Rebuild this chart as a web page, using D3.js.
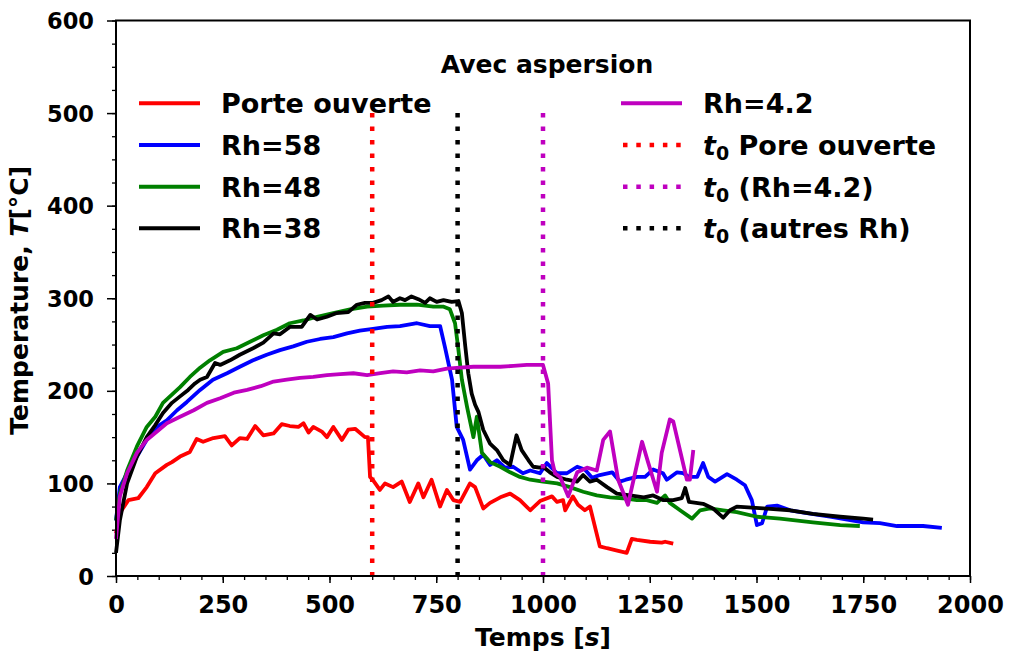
<!DOCTYPE html>
<html lang="en">
<head>
<meta charset="UTF-8">
<title>Avec aspersion</title>
<style>
  body { margin: 0; background: #fff; }
  svg { display: block; font-family: 'DejaVu Sans', sans-serif; font-weight: bold; }
</style>
</head>
<body>
<svg width="1009" height="663"></svg>
<script src="https://d3js.org/d3.v7.min.js"></script>
<script>
// [time s, temperature °C]
const porteOuverte = [[0,46],[9,68],[29,82],[52,84],[72,96],[92,111],[119,120],[131,123],[150,129],[173,134],[189,148],[204,145],[228,149],[255,151],[271,141],[290,149],[307,148],[326,162],[345,152],[369,154],[388,164],[407,162],[427,161],[439,165],[451,155],[462,161],[482,156],[494,150],[509,161],[529,147],[544,158],[560,159],[583,150],[590,150],[595,107],[601,104],[618,93],[630,100],[649,96],[669,102],[688,80],[708,100],[720,85],[739,104],[759,75],[775,93],[790,82],[806,80],[829,100],[841,96],[860,73],[876,79],[900,85],[923,89],[946,82],[970,71],[993,81],[1021,86],[1033,80],[1047,82],[1052,71],[1070,86],[1082,77],[1098,71],[1110,75],[1133,32],[1150,30],[1169,28],[1196,25],[1208,40],[1220,39],[1251,37],[1278,36],[1286,37],[1305,35]];

const rh58 = [[0,60],[9,96],[26,111],[49,129],[72,147],[96,161],[119,168],[143,179],[166,188],[197,201],[227,212],[260,219],[290,226],[321,233],[353,239],[384,244],[415,248],[447,253],[478,256],[509,258],[541,262],[571,265],[602,267],[635,269],[665,270],[705,273],[735,270],[759,270],[770,248],[787,212],[798,161],[813,147],[829,115],[845,125],[860,131],[876,120],[892,125],[911,117],[930,118],[953,111],[970,114],[993,111],[1009,122],[1033,111],[1056,111],[1080,118],[1098,115],[1115,106],[1133,109],[1162,112],[1180,102],[1194,104],[1220,107],[1239,107],[1258,115],[1281,111],[1290,104],[1314,112],[1328,111],[1342,107],[1361,107],[1375,122],[1387,107],[1403,102],[1431,110],[1454,104],[1473,98],[1489,82],[1501,55],[1513,57],[1525,75],[1548,76],[1579,71],[1618,68],[1672,64],[1750,58],[1789,57],[1829,54],[1890,54],[1934,52]];

const rh48 = [[0,60],[9,89],[26,114],[49,140],[72,161],[92,172],[110,187],[131,196],[150,204],[173,215],[197,225],[220,233],[251,242],[283,246],[314,253],[345,260],[377,266],[407,273],[439,276],[471,280],[509,284],[548,288],[588,291],[626,292],[665,293],[705,293],[743,291],[766,291],[782,288],[794,273],[801,248],[810,212],[822,183],[837,150],[845,172],[857,133],[876,123],[900,118],[923,112],[946,107],[970,104],[1000,102],[1033,100],[1063,96],[1094,91],[1126,87],[1157,85],[1187,84],[1220,82],[1243,82],[1267,79],[1286,87],[1297,79],[1321,71],[1349,62],[1368,71],[1391,73],[1422,71],[1454,69],[1501,64],[1555,62],[1632,58],[1696,55],[1742,54]];

const rh38 = [[0,25],[9,60],[26,100],[49,129],[72,150],[92,163],[110,176],[131,187],[150,194],[169,201],[185,208],[197,212],[213,215],[232,230],[244,228],[267,233],[290,239],[321,246],[345,252],[369,262],[384,261],[407,269],[435,269],[455,282],[471,277],[494,280],[517,284],[544,285],[564,293],[583,295],[602,295],[622,298],[638,302],[649,296],[665,300],[677,298],[692,302],[708,299],[724,295],[735,300],[751,296],[767,298],[786,296],[802,297],[810,284],[818,248],[825,219],[833,197],[841,185],[849,177],[860,158],[876,143],[892,136],[907,125],[923,120],[938,152],[950,136],[966,125],[977,118],[993,117],[1000,118],[1016,112],[1033,107],[1056,104],[1080,102],[1094,109],[1110,102],[1126,104],[1150,96],[1173,89],[1204,87],[1236,85],[1258,87],[1281,82],[1305,82],[1325,84],[1333,95],[1342,80],[1375,78],[1398,73],[1422,63],[1438,71],[1454,75],[1516,73],[1579,71],[1632,67],[1696,64],[1750,62],[1773,61]];

const rh42 = [[0,40],[9,86],[26,111],[49,133],[72,147],[96,156],[119,165],[150,172],[182,179],[213,187],[244,192],[276,198],[307,201],[339,205],[369,210],[400,212],[431,214],[462,215],[494,217],[525,218],[556,219],[588,217],[619,219],[649,221],[681,220],[712,222],[743,221],[775,224],[806,225],[837,226],[868,226],[900,226],[931,227],[962,228],[993,228],[1000,228],[1012,208],[1021,125],[1028,111],[1040,107],[1059,86],[1080,112],[1103,117],[1126,114],[1141,147],[1157,156],[1176,104],[1199,77],[1232,145],[1246,123],[1267,91],[1278,133],[1297,169],[1305,167],[1337,104],[1344,104],[1352,136]];

const seriesNames = ["Porte ouverte", "Rh=58", "Rh=48", "Rh=38", "Rh=4.2"];
const seriesData = [porteOuverte, rh58, rh48, rh38, rh42];
const seriesColors = ["#ff0000", "#0000ff", "#008000", "#000000", "#bf00bf"];

const t0Times = [600, 800, 1000];
const t0Colors = ["#ff0000", "#000000", "#bf00bf"];
const t0Top = 500;

const xTicks = [0, 250, 500, 750, 1000, 1250, 1500, 1750, 2000];
const yTicks = [0, 100, 200, 300, 400, 500, 600];

const svg = d3.select("svg");
const x = d3.scaleLinear().domain([0, 2000]).range([116, 970]);
const y = d3.scaleLinear().domain([0, 600]).range([576, 20.5]);

// minor ticks
svg.append("g")
  .attr("transform", `translate(0,${y(0)})`)
  .call(d3.axisBottom(x).tickValues(d3.range(0, 2001, 50)).tickSize(4).tickFormat(""))
  .call(g => g.select(".domain").remove())
  .call(g => g.selectAll("line").attr("stroke-width", 1.3));
svg.append("g")
  .attr("transform", `translate(${x(0)},0)`)
  .call(d3.axisLeft(y).tickValues(d3.range(0, 601, 25)).tickSize(4).tickFormat(""))
  .call(g => g.select(".domain").remove())
  .call(g => g.selectAll("line").attr("stroke-width", 1.3));

// major ticks
svg.append("g")
  .attr("transform", `translate(0,${y(0)})`)
  .call(d3.axisBottom(x).tickValues(xTicks).tickSize(7).tickFormat(d3.format("d")))
  .call(g => g.select(".domain").remove())
  .call(g => g.selectAll("line").attr("stroke-width", 1.5))
  .call(g => g.selectAll("text").attr("font-size", 24).attr("font-family", "DejaVu Sans").attr("font-weight", "bold").attr("fill", "#000").attr("dy", 0).attr("y", 37));
svg.append("g")
  .attr("transform", `translate(${x(0)},0)`)
  .call(d3.axisLeft(y).tickValues(yTicks).tickSize(9).tickFormat(d3.format("d")))
  .call(g => g.select(".domain").remove())
  .call(g => g.selectAll("line").attr("stroke-width", 1.5))
  .call(g => g.selectAll("text").attr("font-size", 22.5).attr("font-family", "DejaVu Sans").attr("font-weight", "bold").attr("fill", "#000").attr("dy", 0).attr("x", -22).attr("y", 8));

const line = d3.line().x(d => x(d[0])).y(d => y(d[1]));

const plot = svg.append("g");
plot.selectAll("path.series")
  .data(seriesData)
  .join("path")
  .attr("class", "series")
  .attr("d", line)
  .attr("fill", "none")
  .attr("stroke", (d, i) => seriesColors[i])
  .attr("stroke-width", 3.8)
  .attr("stroke-linejoin", "round");

plot.selectAll("line.t0")
  .data(t0Times)
  .join("line")
  .attr("class", "t0")
  .attr("x1", d => x(d)).attr("x2", d => x(d))
  .attr("y1", y(t0Top)).attr("y2", y(0))
  .attr("stroke", (d, i) => t0Colors[i])
  .attr("stroke-width", 4.5)
  .attr("stroke-dasharray", "4.5,9");

// frame
svg.append("rect")
  .attr("x", x(0)).attr("y", y(600))
  .attr("width", x(2000) - x(0)).attr("height", y(0) - y(600))
  .attr("fill", "none").attr("stroke", "#000").attr("stroke-width", 2);

// axis labels
const ylab = svg.append("text")
  .attr("transform", `translate(28,${(y(0) + y(600)) / 2 + 2}) rotate(-90)`)
  .attr("text-anchor", "middle").attr("font-size", 25);
ylab.append("tspan").text("Temperature, ");
ylab.append("tspan").attr("font-style", "italic").text("T");
ylab.append("tspan").text("[°C]");

const xlab = svg.append("text")
  .attr("x", (x(0) + x(2000)) / 2).attr("y", 646)
  .attr("text-anchor", "middle").attr("font-size", 25);
xlab.append("tspan").text("Temps [");
xlab.append("tspan").attr("font-style", "italic").text("s");
xlab.append("tspan").text("]");

// legend
svg.append("text").attr("x", 547).attr("y", 73).attr("text-anchor", "middle")
  .attr("font-size", 25).text("Avec aspersion");

const rowY = [103.3, 145, 186.7, 228.3];
const legendItems = [
  { col: 0, row: 0, color: seriesColors[0], dotted: false, label: [["Porte ouverte"]] },
  { col: 0, row: 1, color: seriesColors[1], dotted: false, label: [["Rh=58"]] },
  { col: 0, row: 2, color: seriesColors[2], dotted: false, label: [["Rh=48"]] },
  { col: 0, row: 3, color: seriesColors[3], dotted: false, label: [["Rh=38"]] },
  { col: 1, row: 0, color: seriesColors[4], dotted: false, label: [["Rh=4.2"]] },
  { col: 1, row: 1, color: t0Colors[0], dotted: true, label: [["t", "it"], ["0", "sub"], [" Pore ouverte"]] },
  { col: 1, row: 2, color: t0Colors[2], dotted: true, label: [["t", "it"], ["0", "sub"], [" (Rh=4.2)"]] },
  { col: 1, row: 3, color: t0Colors[1], dotted: true, label: [["t", "it"], ["0", "sub"], [" (autres Rh)"]] }
];
const colX = [139, 621];
const lg = svg.append("g");
legendItems.forEach(it => {
  const x0 = colX[it.col], yy = rowY[it.row];
  lg.append("line")
    .attr("x1", it.dotted ? x0 + 2 : x0).attr("x2", x0 + 61)
    .attr("y1", yy).attr("y2", yy)
    .attr("stroke", it.color)
    .attr("stroke-width", it.dotted ? 4.5 : 4)
    .attr("stroke-dasharray", it.dotted ? "4.5,8.8" : null);
  const t = lg.append("text").attr("x", x0 + 82).attr("y", yy + 10).attr("font-size", 27);
  it.label.forEach(([s, kind]) => {
    const sp = t.append("tspan").text(s);
    if (kind === "it") sp.attr("font-style", "italic");
    if (kind === "sub") sp.attr("font-size", 19).attr("dy", 5);
    if (kind === undefined && it.label.length > 1) sp.attr("dy", -5);
  });
});
</script>
</body>
</html>
